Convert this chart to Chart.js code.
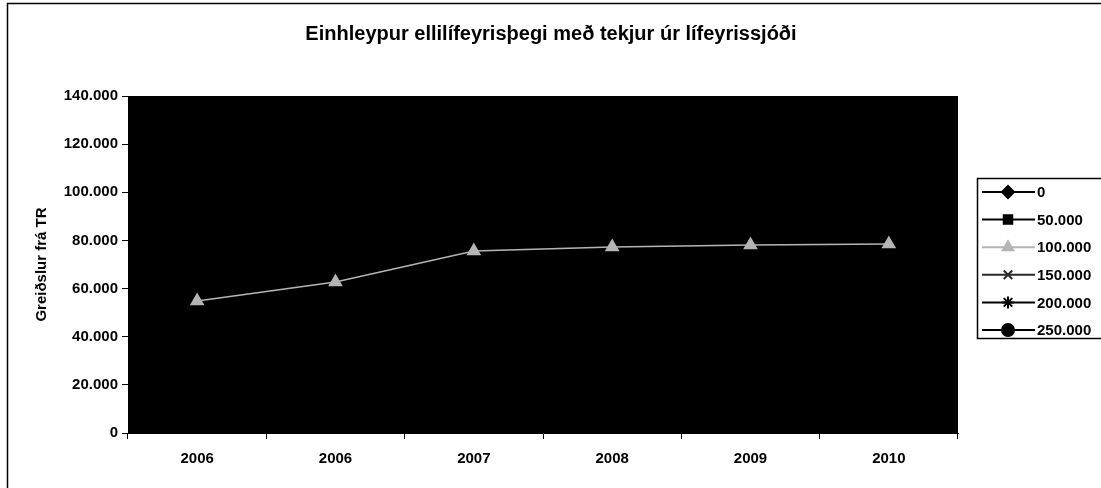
<!DOCTYPE html>
<html>
<head>
<meta charset="utf-8">
<script src="https://cdn.jsdelivr.net/npm/chart.js@4"></script>
<style>
  html, body { margin: 0; padding: 0; background: #fff; }
  #wrap { width: 1101px; height: 488px; }
</style>
</head>
<body>
<div id="wrap"><canvas id="line" width="1101" height="488"></canvas></div>
<script>
// categories (the source repeats 2006)
var years = ['2006', '2006', '2007', '2008', '2009', '2010'];
// only the 100.000 series can be seen; the black series vanish into the black plot
var s100 = [54800, 62700, 75600, 77300, 78100, 78500];
var s0 = [54800, 62700, 75600, 77300, 78100, 78500];
var s50 = [54800, 62700, 75600, 77300, 78100, 78500];
var s150 = [54800, 62700, 75600, 77300, 78100, 78500];
var s200 = [54800, 62700, 75600, 77300, 78100, 78500];
var s250 = [54800, 62700, 75600, 77300, 78100, 78500];
var seriesNames = ['0', '50.000', '100.000', '150.000', '200.000', '250.000'];
var yTicks = [0, 20000, 40000, 60000, 80000, 100000, 120000, 140000];
var chartTitle = 'Einhleypur ellilífeyrisþegi með tekjur úr lífeyrissjóði';

var FONT = 'Liberation Sans, Arial, sans-serif';

function fmt(v) {
    return v === 0 ? '0' : v.toLocaleString('de-DE').replace(',', '.');
}

function ds(label, data, color, style, order, radius) {
    return {
        label: label,
        data: data,
        borderColor: color,
        backgroundColor: color,
        pointBackgroundColor: color,
        pointBorderColor: color,
        pointStyle: style,
        pointRadius: radius,
        borderWidth: 1.5,
        pointBorderWidth: 1.5,
        order: order,
        tension: 0
    };
}

var ctx = document.getElementById('line').getContext('2d');

var chrome = {
    id: 'chrome',
    beforeDraw: function(chart) {
        var c = chart.ctx, a = chart.chartArea;
        c.save();
        c.fillStyle = '#fff';
        c.fillRect(0, 0, chart.width, chart.height);
        c.fillStyle = '#000';
        c.fillRect(a.left, a.top, a.right - a.left, a.bottom - a.top);
        // outer frame
        c.strokeStyle = '#000';
        c.lineWidth = 1.5;
        c.beginPath();
        c.moveTo(7.5, chart.height);
        c.lineTo(7.5, 3.5);
        c.lineTo(chart.width, 3.5);
        c.stroke();
        // title, centred on the whole frame
        c.fillStyle = '#000';
        c.font = 'bold 20px ' + FONT;
        c.textAlign = 'center';
        c.textBaseline = 'middle';
        c.fillText(chartTitle, 551, 34);
        c.restore();
    },
    afterDraw: function(chart) {
        // legend: line sample with marker, boxed
        var c = chart.ctx;
        var x0 = 977, y0 = 178, rowH = 27.6;
        c.save();
        c.strokeStyle = '#000';
        c.lineWidth = 1.5;
        c.strokeRect(x0 + 0.5, y0 + 0.5, 140, 160);
        chart.data.datasets.forEach(function(d, i) {
            var y = y0 + 14 + i * rowH;
            c.strokeStyle = d.borderColor;
            c.fillStyle = d.borderColor;
            c.lineWidth = 2;
            c.beginPath();
            c.moveTo(x0 + 5, y);
            c.lineTo(x0 + 58, y);
            c.stroke();
            Chart.helpers.drawPoint(c, {
                pointStyle: d.pointStyle,
                radius: 6,
                rotation: 0,
                borderWidth: 1.5
            }, x0 + 31, y);
            c.fillStyle = '#000';
            c.font = 'bold 15px ' + FONT;
            c.textBaseline = 'middle';
            c.textAlign = 'left';
            c.fillText(d.label, x0 + 60, y + 1);
        });
        c.restore();
    }
};

var myChart = new Chart(ctx, {
    type: 'line',
    data: {
        labels: years,
        datasets: [
            ds(seriesNames[0], s0, '#000000', 'rectRot', 5, 5),
            ds(seriesNames[1], s50, '#000000', 'rect', 4, 5),
            ds(seriesNames[2], s100, '#b4b4b4', 'triangle', 0, 7),
            ds(seriesNames[3], s150, '#2a2a2a', 'crossRot', 3, 5),
            ds(seriesNames[4], s200, '#000000', 'star', 2, 5),
            ds(seriesNames[5], s250, '#000000', 'circle', 1, 5)
        ]
    },
    options: {
        responsive: false,
        animation: false,
        layout: { padding: { left: 10, right: 143, top: 96, bottom: 10 } },
        plugins: {
            legend: { display: false },
            tooltip: { enabled: false },
            title: { display: false }
        },
        scales: {
            x: {
                offset: true,
                grid: {
                    offset: true,
                    drawOnChartArea: false,
                    drawTicks: true,
                    tickLength: 6,
                    color: '#000'
                },
                border: { color: '#000', width: 1 },
                ticks: {
                    color: '#000',
                    font: { family: FONT, size: 15, weight: 'bold' },
                    padding: 11,
                    maxRotation: 0,
                    autoSkip: false
                },
                afterFit: function(scale) { scale.height = 45; }
            },
            y: {
                min: 0,
                max: 140000,
                afterBuildTicks: function(scale) {
                    scale.ticks = yTicks.map(function(v) { return { value: v }; });
                },
                grid: {
                    drawOnChartArea: false,
                    drawTicks: true,
                    tickLength: 6,
                    color: '#000'
                },
                border: { color: '#000', width: 1 },
                ticks: {
                    color: '#000',
                    font: { family: FONT, size: 15, weight: 'bold' },
                    padding: 4,
                    callback: function(v) { return fmt(v); }
                },
                title: {
                    display: true,
                    text: 'Greiðslur frá TR',
                    color: '#000',
                    font: { family: FONT, size: 15, weight: 'bold' },
                    padding: { top: 23, bottom: 0 }
                },
                afterFit: function(scale) { scale.width = 118; }
            }
        }
    },
    plugins: [chrome]
});
</script>
</body>
</html>
